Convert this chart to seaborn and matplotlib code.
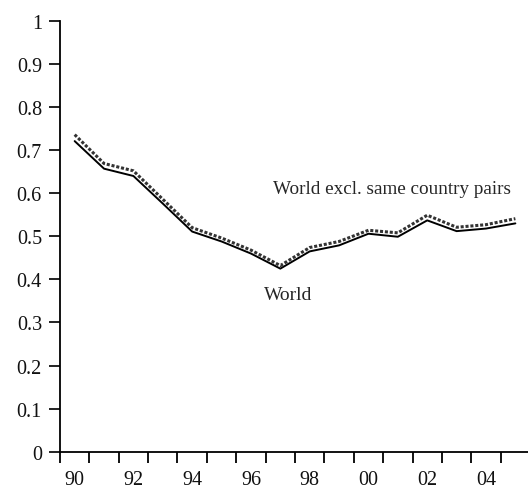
import numpy as np
import pandas as pd
import matplotlib
matplotlib.use("Agg")
import matplotlib.pyplot as plt
import seaborn as sns

# years 1990-2005, shown as two-digit labels
years = list(range(1990, 2006))
world = [0.721, 0.657, 0.640, 0.576, 0.511, 0.488, 0.460, 0.425,
         0.465, 0.479, 0.506, 0.499, 0.537, 0.512, 0.518, 0.530]
world_excl = [0.736, 0.669, 0.652, 0.586, 0.520, 0.496, 0.468, 0.432,
              0.474, 0.488, 0.514, 0.508, 0.549, 0.521, 0.527, 0.541]

df = pd.DataFrame({
    "pos": np.arange(len(years)),
    "World": world,
    "World excl. same country pairs": world_excl,
})

sns.set_style("white")
plt.rcParams["font.family"] = ["Liberation Serif", "DejaVu Serif"]

fig = plt.figure(figsize=(5.28, 4.89), dpi=100)
ax = fig.add_axes([0.1136, 0.0742, 0.8864, 0.881])

sns.lineplot(data=df, x="pos", y="World excl. same country pairs", ax=ax,
             color="#333333", linestyle=(0, (1, 0.6)), linewidth=2.2)
sns.lineplot(data=df, x="pos", y="World", ax=ax, color="black", linewidth=1.4)

ax.set_xlim(-0.5, 15.43)
ax.set_ylim(0, 1)

# y axis
ax.set_yticks(np.arange(0, 1.01, 0.1))
ax.set_yticklabels(["0"] + [f"{v:.1f}" for v in np.arange(0.1, 0.95, 0.1)] + ["1"])
ax.tick_params(axis="y", left=True, direction="out", length=8, width=1.3,
               labelsize=14.5, pad=5, colors="#111111")

# x axis: ticks at category boundaries, labels at every other centre
ax.set_xticks(np.arange(-0.5, 15.0, 1.0))
ax.set_xticklabels([])
ax.tick_params(axis="x", which="major", bottom=True, direction="out", length=8,
               width=1.3, color="black")
ax.set_xticks(np.arange(0, 16, 2), minor=True)
ax.set_xticklabels([str(y)[2:] for y in years[::2]], minor=True)
ax.tick_params(axis="x", which="minor", bottom=True, length=0, labelsize=14.5,
               pad=13, labelcolor="#111111")

for s in ["top", "right"]:
    ax.spines[s].set_visible(False)
for s in ["left", "bottom"]:
    ax.spines[s].set_color("black")
    ax.spines[s].set_linewidth(1.3)

ax.set_xlabel("")
ax.set_ylabel("")

ax.text(10.8, 0.61, "World excl. same country pairs", ha="center", va="center",
        fontsize=13.8)
ax.text(7.26, 0.364, "World", ha="center", va="center", fontsize=14)

fig.savefig("out.png", dpi=100)
